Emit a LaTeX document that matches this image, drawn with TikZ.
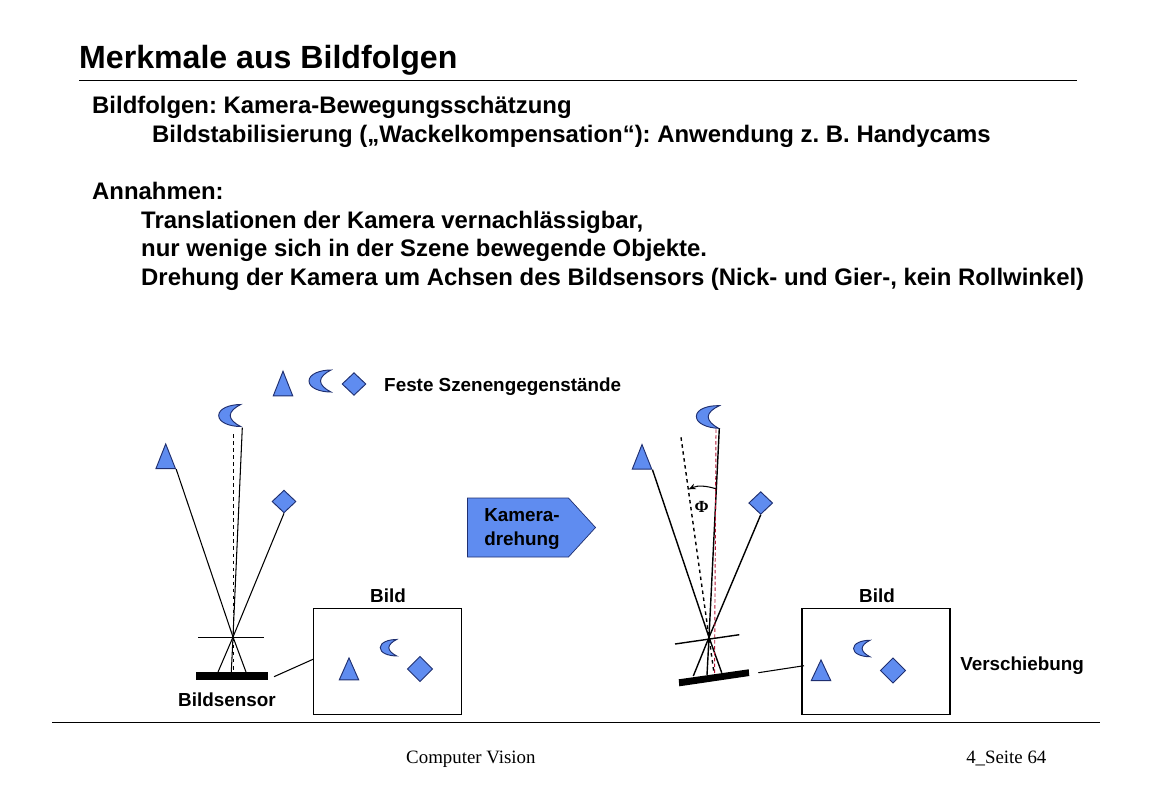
\documentclass[tikz,border=0pt]{standalone}
\usepackage{fontspec}
\setmainfont{Liberation Sans}
\newfontfamily\footfont{Liberation Serif}
\usetikzlibrary{shapes.geometric,shapes.symbols,arrows.meta}
\definecolor{shapeblue}{HTML}{5F8CF0}
\definecolor{shapeedge}{HTML}{1F2F70}
\definecolor{axisred}{HTML}{B01030}
\tikzset{
  titletext/.style={anchor=base west,inner sep=0pt,font=\fontsize{27.4}{30}\selectfont\bfseries},
  bodytext/.style={anchor=base west,inner sep=0pt,font=\fontsize{20.4}{24}\selectfont\bfseries\frenchspacing},
  smalltext/.style={anchor=base west,inner sep=0pt,font=\fontsize{16.1}{19}\selectfont\bfseries},
  foottext/.style={anchor=base west,inner sep=0pt,font=\fontsize{16.1}{19}\selectfont\footfont},
  trinode/.style={isosceles triangle,isosceles triangle stretches,shape border rotate=90,line width=0.8pt,
    draw=shapeedge,fill=shapeblue,inner sep=0pt,minimum width=0.585cm,minimum height=0.74cm,anchor=apex},
  dianode/.style={diamond,draw=shapeedge,fill=shapeblue,line width=0.8pt,inner sep=0pt,minimum width=0.72cm,minimum height=0.68cm},
  imgdia/.style={dianode,minimum width=0.76cm,minimum height=0.76cm},
  ray/.style={line width=0.9pt},
  boldray/.style={line width=1.2pt},
  imgbox/.style={draw,line width=0.9pt,inner sep=0pt,minimum width=4.44cm,minimum height=3.18cm},
  moon/.pic={\draw[draw=shapeedge,fill=shapeblue,line width=0.8pt] (0,-11) .. controls (-11,-11) and (-22,-7) .. (-22,0)
      .. controls (-22,7) and (-11,11) .. (0,11) .. controls (-6,8) and (-10.5,4) .. (-10.5,0)
      .. controls (-10.5,-4) and (-6,-8) .. (0,-11) -- cycle;},
}
\begin{document}
\begin{tikzpicture}[x=0.03cm,y=-0.03cm]
        \useasboundingbox (0,0) rectangle (1160,800);
        \node[titletext] (title) at (79,68) {Merkmale aus Bildfolgen};
        \draw[line width=0.7pt] (79,80) -- (1077,80);
        \node[bodytext] (lineA) at (92,113) {Bildfolgen: Kamera-Bewegungsschätzung};
        \node[bodytext] (lineB) at (152,142) {Bildstabilisierung („Wackelkompensation“): Anwendung z. B. Handycams};
        \node[bodytext] (lineC) at (92,199) {Annahmen:};
        \node[bodytext] (lineD) at (141,228) {Translationen der Kamera vernachlässigbar,};
        \node[bodytext] (lineE) at (141,256) {nur wenige sich in der Szene bewegende Objekte.};
        \node[bodytext] (lineF) at (141,285) {Drehung der Kamera um Achsen des Bildsensors (Nick- und Gier-, kein Rollwinkel)};

        \node[trinode] (triTop) at (283,370) {};
        \pic at (331,381) {moon};
        \node[dianode] (diaTop) at (354,384) {};
        \node[smalltext] (fixedLabel) at (384,391) {Feste Szenengegenstände};

        \coordinate (pinL) at (233,637);
        \coordinate (moonLfoot) at (242.3,427.7);
        \coordinate (axisLtop) at (233.3,434);
        \coordinate (axisLfoot) at (233.3,672);
        \coordinate (footLa) at (246,672);
        \coordinate (footLb) at (231.3,672);
        \coordinate (footLc) at (218,672);
        \pic at (240.7,415.5) {moon};
        \node[trinode] (triL) at (165.7,442.7) {};
        \node[dianode] (diaL) at (284,501.5) {};
        \draw[ray] (triL.right corner) -- (pinL) -- (footLa);
        \draw[ray] (moonLfoot) -- (pinL) -- (footLb);
        \draw[ray] (diaL.south) -- (pinL) -- (footLc);
        \draw[ray,dashed] (axisLtop) -- (axisLfoot);
        \draw[ray] (198.3,637.3) -- (264,637.3);
        \node[fill=black,inner sep=0pt,minimum width=2.16cm,minimum height=0.24cm] (sensorL) at (232,676) {};
        \node[smalltext] (sensorLabel) at (178,706) {Bildsensor};
        \node[imgbox] (boxL) at (387.5,661.3) {};
        \node[smalltext,anchor=base] (bildL) at (388,602.5) {Bild};
        \coordinate (linkL) at (274,676.7);
        \draw[ray] (linkL) -- (boxL.west |- 0,659.3);
        \node[trinode,minimum height=0.66cm] (triImgL) at (349,656.7) {};
        \pic[scale=0.75] at (396.7,647.7) {moon};
        \node[imgdia] (diaImgL) at (420,669) {};

        \node[signal,signal to=east,signal pointer angle=95,draw=shapeedge,fill=shapeblue,line width=0.6pt,
            inner sep=0pt,minimum width=3.84cm,minimum height=1.77cm] (turn) at (518,527.5) {};
        \node[smalltext,align=center,anchor=center,font=\fontsize{16.1}{20.5}\selectfont\bfseries] (turnLabel) at (522,529) {Kamera-\\drehung};

        \coordinate (pinR) at (709,637.3);
        \coordinate (moonRfoot) at (719.3,428.3);
        \coordinate (axisRtop) at (681,437.3);
        \coordinate (axisRfoot) at (714,673);
        \coordinate (redTop) at (716,429.3);
        \coordinate (redFoot) at (714.5,678);
        \coordinate (footRa) at (721.7,672.7);
        \coordinate (footRb) at (707,675);
        \coordinate (footRc) at (693.3,676);
        \pic[rotate=-2,scale=1.03] at (719,417) {moon};
        \node[trinode] (triR) at (642,443.3) {};
        \node[dianode] (diaR) at (760.7,503) {};
        \draw[boldray] (triR.right corner) -- (pinR) -- (footRa);
        \draw[boldray] (moonRfoot) -- (pinR) -- (footRb);
        \draw[boldray] (diaR.south) -- (pinR) -- (footRc);
        \draw[boldray,dashed] (axisRtop) -- (pinR) -- (axisRfoot);
        \draw[axisred,line width=0.8pt,densely dashed] (redTop) -- (redFoot);
        \draw[boldray] (675,644) -- (739.3,634.7);
        \fill (678.7,679.3) -- (748.7,669.3) -- (749.3,676) -- (679.3,686.3) -- cycle;
        \coordinate (arcStart) at (715.7,488.7);
        \coordinate (arcEnd) at (688.7,489.3);
        \draw[ray,-{Stealth[length=6pt,width=5pt]}] (arcStart) .. controls (707,486) and (698,485) .. (arcEnd);
        \node[inner sep=0pt,font=\fontsize{14.5}{16}\selectfont\footfont\bfseries] (phiLabel) at (701.7,506.7) {Φ};
        \node[imgbox] (boxR) at (876,661.5) {};
        \node[smalltext,anchor=base] (bildR) at (877,602.5) {Bild};
        \coordinate (linkR) at (758.3,672.7);
        \draw[ray] (linkR) -- (804,665.7);
        \node[trinode,minimum height=0.62cm] (triImgR) at (821,658.7) {};
        \pic[scale=0.75] at (870,648.5) {moon};
        \node[imgdia] (diaImgR) at (893,670.5) {};
        \node[smalltext] (shiftLabel) at (960,670) {Verschiebung};

        \draw[line width=0.7pt] (52,722) -- (1100,722);
        \node[foottext] (footA) at (406,763) {Computer Vision};
        \node[foottext] (footB) at (966,763) {4\_Seite 64};
\end{tikzpicture}
\end{document}
